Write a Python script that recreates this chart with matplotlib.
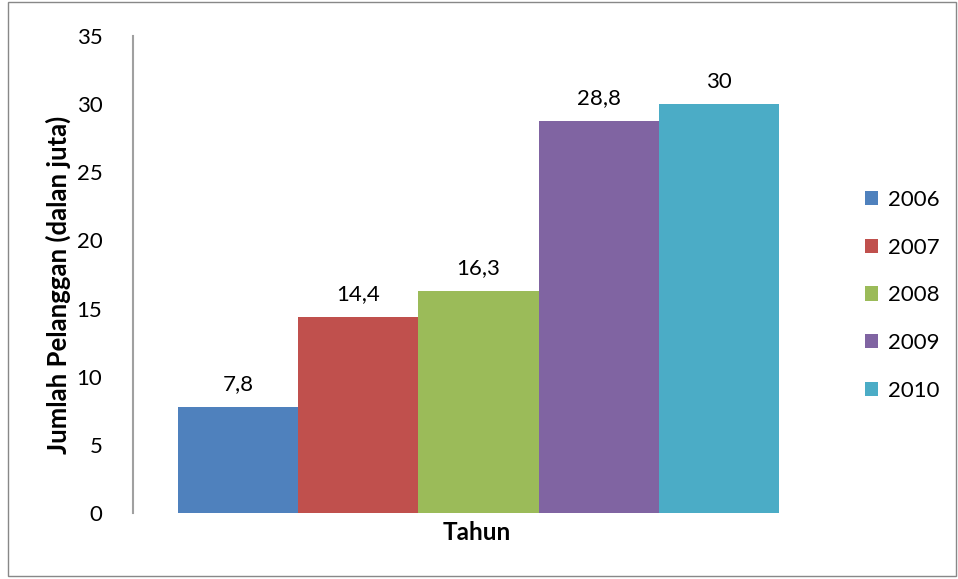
import matplotlib.pyplot as plt
from matplotlib.patches import Rectangle

years = ['2006', '2007', '2008', '2009', '2010']
values = [7.8, 14.4, 16.3, 28.8, 30]
labels = ['7,8', '14,4', '16,3', '28,8', '30']
colors = ['#4f81bd', '#c0504d', '#9bbb59', '#8064a2', '#4bacc6']

plt.rcParams['font.family'] = ['Lato', 'DejaVu Sans']

fig = plt.figure(figsize=(9.58, 5.79), dpi=100)
ax = fig.add_axes([0.1388, 0.114, 0.7212, 0.8238])

for i, (yr, v, lab, c) in enumerate(zip(years, values, labels, colors)):
    ax.bar(i, v, width=1.0, color=c, label=yr)
    ax.annotate(lab, (i, v), xytext=(0, 9), textcoords='offset points',
                ha='center', va='bottom', fontsize=16)

ax.set_xlim(2 - 2.875, 2 + 2.875)
ax.set_ylim(0, 35)
ax.set_yticks(range(0, 36, 5))
ax.set_xticks([])
ax.tick_params(axis='y', length=0, labelsize=16, pad=22)
for s in ['top', 'right', 'bottom']:
    ax.spines[s].set_visible(False)
ax.spines['left'].set_color('#a0a0a0')
ax.spines['left'].set_linewidth(1.5)

# axis titles placed like the Excel original
fig.text(58 / 958, 1 - 285 / 579, 'Jumlah Pelanggan (dalan juta)', rotation=90,
         ha='center', va='center', fontsize=18.5, fontweight='bold')
fig.text(477 / 958, 1 - 533 / 579, 'Tahun', ha='center', va='center',
         fontsize=17.5, fontweight='bold')

fig.legend(loc='center left', bbox_to_anchor=(0.882, 0.49), frameon=False,
           fontsize=16, handlelength=0.6, handleheight=0.6,
           labelspacing=1.25, handletextpad=0.45)

fig.patches.append(Rectangle((0.008, 0.006), 0.99, 0.99, transform=fig.transFigure,
                             fill=False, edgecolor='#888888', linewidth=1))

fig.savefig('out.png', dpi=100)
